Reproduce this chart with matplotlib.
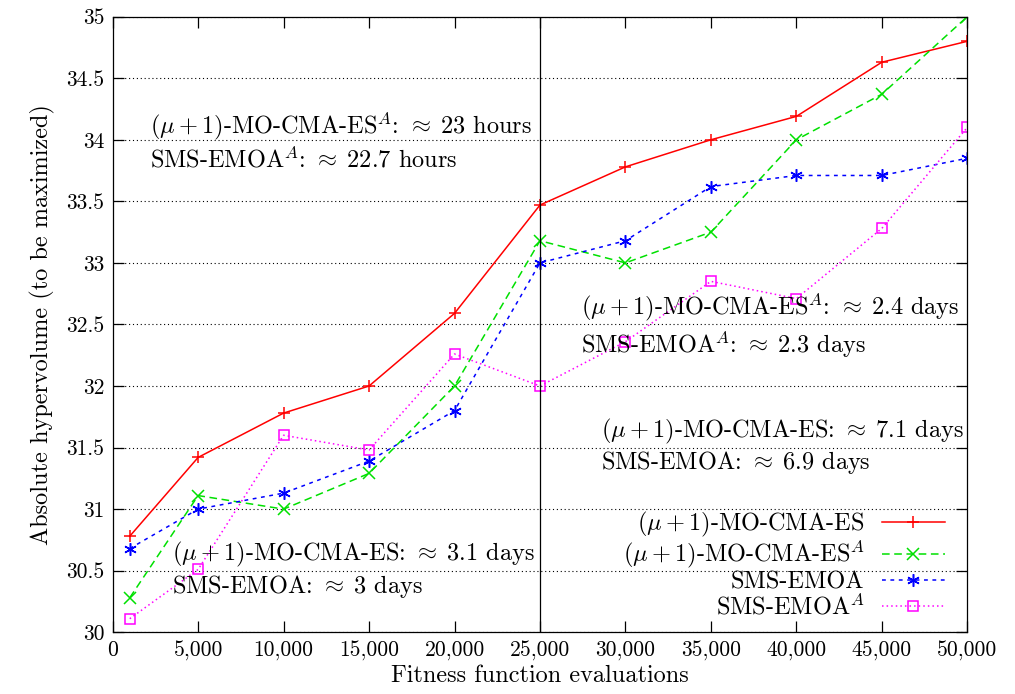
import matplotlib
matplotlib.use("Agg")
import matplotlib.pyplot as plt
from matplotlib.ticker import FuncFormatter, MultipleLocator

plt.rcParams["font.family"] = ["cmr10", "DejaVu Serif"]
plt.rcParams["mathtext.fontset"] = "cm"
plt.rcParams["axes.formatter.use_mathtext"] = True
plt.rcParams["font.size"] = 17.5

# Данные
evals = [1000, 5000, 10000, 15000, 20000, 25000, 30000, 35000, 40000, 45000, 50000]
mo_cma = [30.78, 31.42, 31.78, 32.0, 32.59, 33.47, 33.78, 34.0, 34.19, 34.63, 34.8]
mo_cma_a = [30.28, 31.11, 31.0, 31.29, 32.0, 33.18, 33.0, 33.25, 34.0, 34.37, 35.0]
sms = [30.68, 31.0, 31.13, 31.39, 31.8, 33.0, 33.18, 33.62, 33.71, 33.71, 33.85]
sms_a = [30.11, 30.51, 31.6, 31.48, 32.26, 32.0, 32.36, 32.85, 32.71, 33.28, 34.1]

names = [r"$(\mu+1)$-MO-CMA-ES", r"$(\mu+1)$-MO-CMA-ES$^A$", "SMS-EMOA", r"SMS-EMOA$^A$"]

fig = plt.figure(figsize=(10.15, 6.94), dpi=100)
ax = fig.add_axes([0.111, 0.089, 0.842, 0.887])

ax.plot(evals, mo_cma, color="red", lw=1.1, marker="+", ms=9, mew=1.1, label=names[0])
ax.plot(evals, mo_cma_a, color="#00e000", lw=1.1, ls=(0, (5, 3)), marker="x", ms=8, mew=1.1, label=names[1])
ax.plot(evals, sms, color="blue", lw=1.1, ls=(0, (2.5, 3)), marker=(6, 2, 0), ms=9, mew=1.1, label=names[2])
ax.plot(evals, sms_a, color="magenta", lw=1.1, ls=(0, (1, 2)), marker="s", ms=7, mew=1.1,
        mfc="none", label=names[3])

ax.axvline(25000, color="black", lw=0.9)

ax.set_xlim(0, 50000)
ax.set_ylim(30, 35)
ax.xaxis.set_major_locator(MultipleLocator(5000))
ax.yaxis.set_major_locator(MultipleLocator(0.5))
ax.xaxis.set_major_formatter(FuncFormatter(lambda v, p: "{:,}".format(int(v))))
ax.yaxis.set_major_formatter(FuncFormatter(lambda v, p: "{:g}".format(v)))
ax.tick_params(direction="in", length=8, width=0.9, top=True, right=True, pad=6, labelsize=15.5)
ax.grid(axis="y", color="black", ls=(0, (1, 2.5)), lw=0.8)
for s in ax.spines.values():
    s.set_linewidth(0.9)

ax.set_xlabel("Fitness function evaluations", labelpad=3)
ax.set_ylabel("Absolute hypervolume (to be maximized)", labelpad=8)

# Подписи со временем работы
ax.text(2170, 34.1, r"$(\mu+1)$-MO-CMA-ES$^A$: $\approx\;23$ hours", va="center")
ax.text(2170, 33.84, r"SMS-EMOA$^A$: $\approx\;22.7$ hours", va="center")
ax.text(27400, 32.63, r"$(\mu+1)$-MO-CMA-ES$^A$: $\approx\;2.4$ days", va="center")
ax.text(27400, 32.34, r"SMS-EMOA$^A$: $\approx\;2.3$ days", va="center")
ax.text(28550, 31.63, r"$(\mu+1)$-MO-CMA-ES: $\approx\;7.1$ days", va="center")
ax.text(28550, 31.38, r"SMS-EMOA: $\approx\;6.9$ days", va="center")
ax.text(3500, 30.63, r"$(\mu+1)$-MO-CMA-ES: $\approx\;3.1$ days", va="center")
ax.text(3500, 30.37, r"SMS-EMOA: $\approx\;3$ days", va="center")

leg = ax.legend(loc="lower right", frameon=False, markerfirst=False, handlelength=2.6,
                labelspacing=0.0, borderaxespad=0.0, handletextpad=0.7,
                bbox_to_anchor=(0.985, 0.005))
for t in leg.get_texts():
    t.set_ha("right")

fig.savefig("out.png", dpi=100)
